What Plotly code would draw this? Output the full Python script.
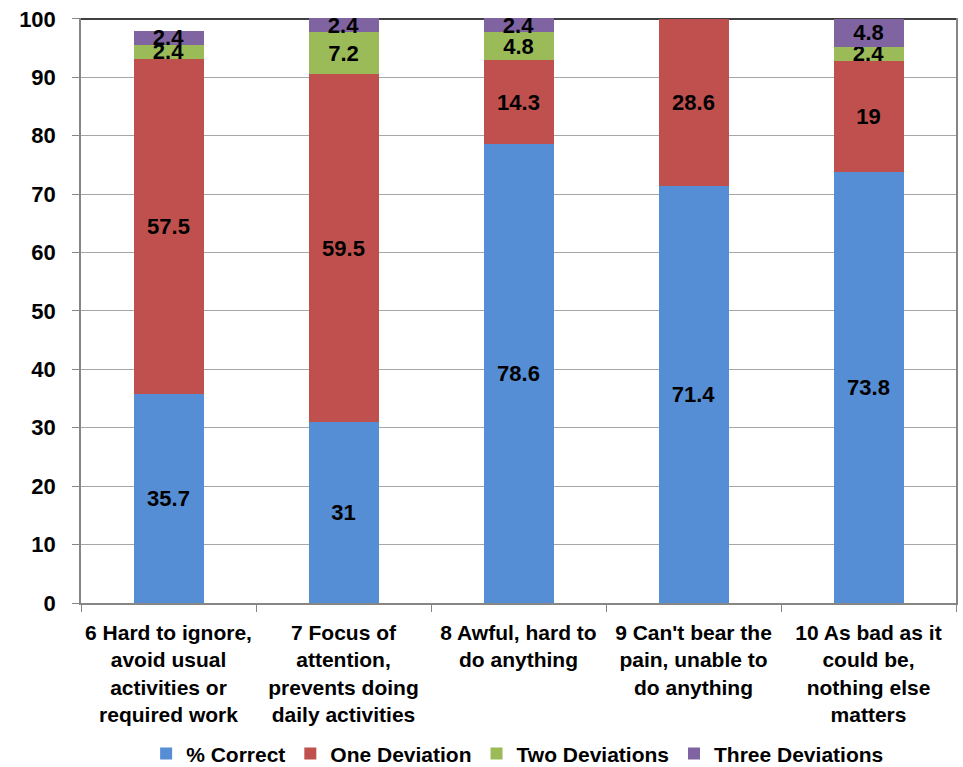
import plotly.graph_objects as go

categories = [
    "6 Hard to ignore,<br>avoid usual<br>activities or<br>required work",
    "7 Focus of<br>attention,<br>prevents doing<br>daily activities",
    "8 Awful, hard to<br>do anything",
    "9 Can't bear the<br>pain, unable to<br>do anything",
    "10 As bad as it<br>could be,<br>nothing else<br>matters",
]
correct = [35.7, 31, 78.6, 71.4, 73.8]
one_dev = [57.5, 59.5, 14.3, 28.6, 19]
two_dev = [2.4, 7.2, 4.8, None, 2.4]
three_dev = [2.4, 2.4, 2.4, None, 4.8]
y_ticks = [0, 10, 20, 30, 40, 50, 60, 70, 80, 90, 100]

series = [
    ("% Correct", correct, "#558ED5"),
    ("One Deviation", one_dev, "#C0504D"),
    ("Two Deviations", two_dev, "#9BBB59"),
    ("Three Deviations", three_dev, "#8064A2"),
]

FONT = "Liberation Sans, Arial, sans-serif"

fig = go.Figure()
for name, vals, color in series:
    fig.add_trace(go.Bar(
        x=categories,
        y=vals,
        name=name,
        marker=dict(color=color, line=dict(width=0)),
        text=[("" if v is None else f"{v:g}") for v in vals],
        textposition="inside",
        insidetextanchor="middle",
        textangle=0,
        constraintext="none",
        cliponaxis=False,
        textfont=dict(family=FONT, size=22, color="black", weight="bold"),
    ))

fig.update_layout(
    barmode="stack",
    bargap=0.6,
    width=963,
    height=767,
    margin=dict(l=81, r=7, t=18, b=164, autoexpand=False),
    paper_bgcolor="white",
    plot_bgcolor="white",
    font=dict(family=FONT, size=21, color="black", weight="bold"),
    showlegend=True,
    legend=dict(
        orientation="h",
        traceorder="normal",
        x=0.499,
        xanchor="center",
        y=-0.258,
        yanchor="middle",
        font=dict(family=FONT, size=21, color="black", weight="bold"),
        itemclick=False,
    ),
    uniformtext=dict(mode="show", minsize=10),
)

fig.update_xaxes(
    showline=True,
    linecolor="#868686",
    linewidth=1.5,
    ticks="outside",
    tickson="boundaries",
    ticklen=7,
    tickcolor="#868686",
    tickangle=0,
    ticklabelstandoff=10,
    automargin=False,
    showgrid=False,
    tickfont=dict(family=FONT, size=21, color="black", weight="bold"),
)
fig.update_yaxes(
    range=[0, 100.15],
    tickvals=y_ticks,
    showline=True,
    linecolor="#868686",
    linewidth=1.5,
    mirror=True,
    ticks="outside",
    ticklen=7,
    tickcolor="#868686",
    ticklabelstandoff=12,
    automargin=False,
    showgrid=True,
    gridcolor="#A6A6A6",
    gridwidth=1,
    zeroline=False,
    tickfont=dict(family=FONT, size=22, color="black", weight="bold"),
)

# dark top edge of the plot frame
fig.add_shape(type="line", xref="paper", yref="y", x0=0, x1=1, y0=100, y1=100,
              line=dict(color="black", width=1.5), layer="below")

fig.write_html("out.html")
